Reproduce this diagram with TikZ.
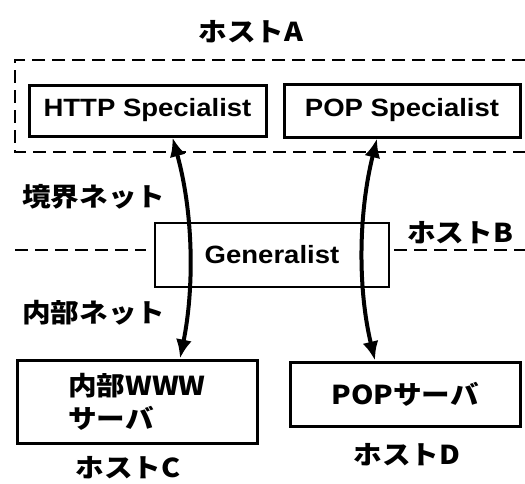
\documentclass[tikz,border=0pt]{standalone}
\usepackage{fontspec}
\usetikzlibrary{arrows.meta,calc}
\newfontfamily\jpf{Noto Sans CJK JP}[FakeStretch=1.1]
\newfontfamily\latf{Liberation Sans}[FakeStretch=1.1]
\begin{document}
\begin{tikzpicture}[x=1pt,y=-1pt,
  box/.style={draw, line width=3pt, inner sep=0pt},
  lat/.style={font=\latf\bfseries\fontsize{25}{30}\selectfont},
  jp/.style={font=\jpf\bfseries\fontsize{26}{33}\selectfont},
  dsh/.style={line width=2.5pt, dash pattern=on 13pt off 7pt},
  arr/.style={line width=4pt, {Latex[length=19pt,width=16pt]}-{Latex[length=19pt,width=16pt]}}]
\useasboundingbox (0,0) rectangle (525,483);
% dashed host A boundary
\coordinate (ta) at (525,60);
\coordinate (tl) at (15,60);
\coordinate (bl) at (15,152);
\coordinate (ba) at (525,152);
\draw[dsh] (ta) -- (tl) -- (bl) -- (ba);
% nodes
\node[jp, inner sep=0pt] (hA) at (251,32) {ホストA};
\node[box, lat, minimum width=237pt, minimum height=51pt] (http) at (147.5,110.5) {HTTP Specialist};
\node[box, lat, minimum width=236pt, minimum height=53pt] (pop) at (402,110.5) {POP Specialist};
\node[draw, line width=2pt, lat, minimum width=234pt, minimum height=64pt] (gen) at (272,255) {Generalist};
\node[jp, anchor=west, inner sep=0pt] (kyo) at (22,197) {境界ネット};
\node[jp, anchor=west, inner sep=0pt] (nai) at (22,313) {内部ネット};
\node[jp, anchor=west, inner sep=0pt] (hB) at (407,233) {ホストB};
\node[box, jp, align=left, minimum width=240pt, minimum height=83pt] (www) at (137,401.5) {内部WWW\\サーバ};
\node[box, jp, minimum width=230pt, minimum height=64pt] (pops) at (405,394) {POPサーバ};
\node[jp, inner sep=0pt] (hD) at (407,455) {ホストD};
\node[jp, inner sep=0pt] (hC) at (128,468) {ホストC};
% dashed line through generalist
\coordinate (lL) at (15,250);
\coordinate (lR) at (525,250);
\draw[dsh] (lL) -- ($(gen.west)+(-8,-5)$);
\draw[dsh] ($(gen.east)+(4,-5)$) -- (lR);
% arrows
\draw[arr] ([xshift=25pt]http.south) .. controls (194,215) and (194,290) .. ([xshift=43pt]www.north);
\draw[arr] ([xshift=-25pt]pop.south) .. controls (358,215) and (358,290) .. ([xshift=-30pt]pops.north);
\end{tikzpicture}
\end{document}
